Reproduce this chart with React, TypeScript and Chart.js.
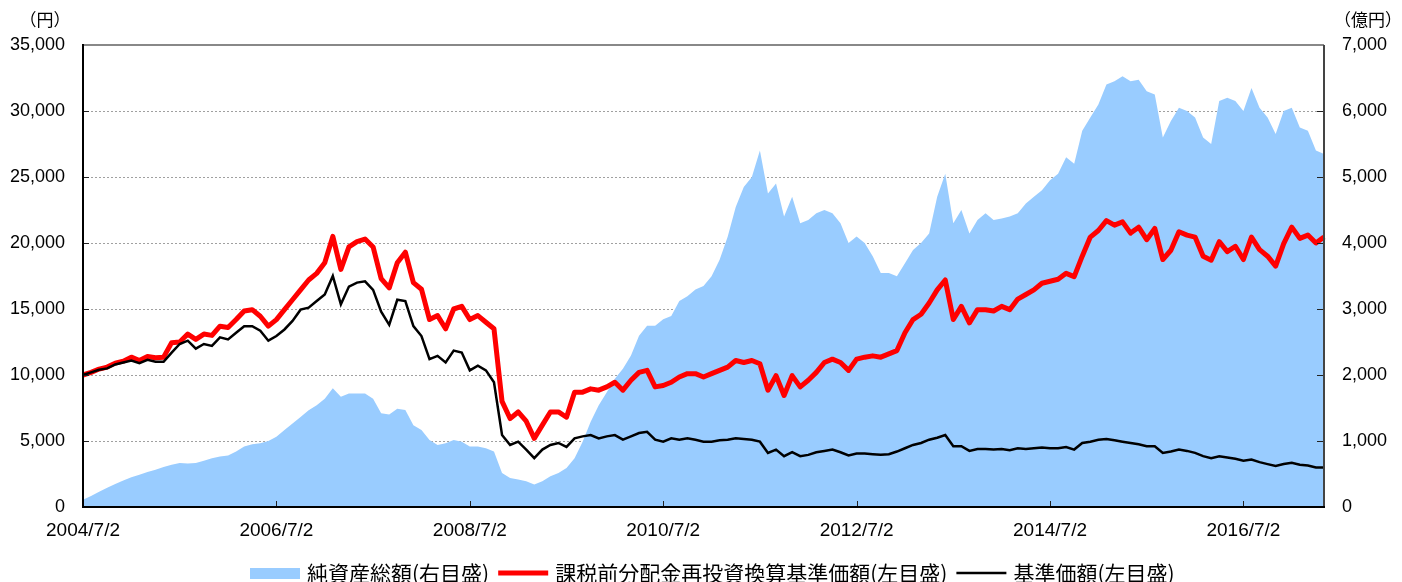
import React, { useEffect, useRef } from "react";
import { Chart, registerables } from "chart.js";

Chart.register(...registerables);

// Monthly categories 2004/7 .. 2017/5
const months: string[] = [];
for (let i = 0; i < 155; i++) {
  const m = 6 + i;
  months.push(`${2004 + Math.floor(m / 12)}/${(m % 12) + 1}`);
}

const xTickLabels = ["2004/7/2", "2006/7/2", "2008/7/2", "2010/7/2", "2012/7/2", "2014/7/2", "2016/7/2"];
const leftGrid = [5000, 10000, 15000, 20000, 25000, 30000];
const rightTickVals = [1000, 2000, 3000, 4000, 5000, 6000];

// 課税前分配金再投資換算基準価額 (円, left axis)
const reinvested = [
  10000, 10200, 10450, 10600, 10900, 11050, 11350, 11100, 11400, 11300,
  11350, 12450, 12500, 13100, 12700, 13100, 13000, 13700, 13600, 14200,
  14850, 14950, 14450, 13700, 14200, 14950, 15700, 16450, 17200, 17700,
  18500, 20500, 18000, 19700, 20100, 20300, 19700, 17300, 16600, 18500,
  19300, 17000, 16500, 14200, 14500, 13500, 15000, 15200, 14200, 14500,
  14000, 13500, 8000, 6700, 7200, 6500, 5200, 6200, 7200, 7200,
  6800, 8700, 8700, 8950, 8850, 9100, 9450, 8850, 9600, 10200,
  10350, 9100, 9200, 9450, 9850, 10100, 10100, 9850, 10100, 10350,
  10600, 11100, 10950, 11100, 10850, 8850, 9950, 8450, 9950, 9100,
  9600, 10200, 10950, 11200, 10950, 10350, 11200, 11350, 11450, 11350,
  11600, 11850, 13200, 14200, 14600, 15450, 16450, 17200, 14200, 15200,
  13950, 14950, 14950, 14850, 15200, 14950, 15750, 16100, 16450, 16950,
  17100, 17250, 17700, 17450, 19000, 20450, 20950, 21700, 21350, 21600,
  20750, 21200, 20250, 21100, 18750, 19450, 20850, 20600, 20450, 19000,
  18700, 20100, 19350, 19750, 18750, 20450, 19500, 19000, 18250, 19950,
  21200, 20350, 20600, 20000, 20450,
];

// 基準価額 (円, left axis)
const basePrice = [
  10000, 10200, 10400, 10500, 10800, 10950, 11100, 10900, 11150, 11000,
  11000, 11700, 12350, 12600, 12000, 12350, 12200, 12850, 12700, 13200,
  13700, 13700, 13350, 12600, 12950, 13450, 14100, 14950, 15100, 15600,
  16100, 17500, 15350, 16700, 17000, 17100, 16450, 14800, 13800, 15700,
  15600, 13700, 12950, 11200, 11450, 10950, 11850, 11700, 10350, 10700,
  10350, 9450, 5450, 4700, 4950, 4350, 3700, 4350, 4700, 4850,
  4550, 5200, 5350, 5450, 5200, 5350, 5450, 5100, 5350, 5600,
  5700, 5100, 4950, 5200, 5100, 5200, 5100, 4950, 4950, 5050,
  5100, 5200, 5150, 5100, 4950, 4100, 4350, 3850, 4150, 3850,
  3950, 4150, 4250, 4350, 4150, 3900, 4050, 4050, 4000, 3950,
  4000, 4200, 4450, 4700, 4850, 5100, 5250, 5450, 4600, 4600,
  4250, 4400, 4400, 4350, 4400, 4300, 4450, 4400, 4450, 4500,
  4450, 4450, 4550, 4350, 4850, 4950, 5100, 5150, 5050, 4950,
  4850, 4750, 4600, 4600, 4100, 4200, 4350, 4250, 4100, 3850,
  3700, 3850, 3750, 3650, 3500, 3600, 3400, 3250, 3100, 3250,
  3350, 3200, 3150, 3000, 3000,
];

// 純資産総額 (億円, right axis)
const netAssets = [
  110, 165, 230, 290, 350, 400, 450, 490, 530, 565,
  605, 640, 665, 660, 665, 700, 740, 765, 780, 840,
  915, 950, 965, 1000, 1065, 1165, 1265, 1365, 1465, 1540,
  1640, 1800, 1670, 1720, 1720, 1720, 1640, 1420, 1400, 1490,
  1470, 1240, 1165, 1015, 940, 965, 1015, 990, 915, 915,
  890, 840, 515, 440, 415, 390, 340, 390, 465, 515,
  590, 740, 990, 1290, 1540, 1740, 1945, 2095, 2295, 2595,
  2745, 2745, 2845, 2895, 3120, 3195, 3295, 3350, 3495, 3745,
  4095, 4545, 4850, 5000, 5400, 4750, 4900, 4400, 4700, 4300,
  4350, 4450, 4500, 4450, 4300, 4000, 4100, 4000, 3800, 3545,
  3545, 3495, 3695, 3895, 4000, 4145, 4700, 5050, 4300, 4500,
  4145, 4350, 4450, 4350, 4370, 4400, 4450, 4600, 4700, 4800,
  4950, 5050, 5300, 5200, 5700, 5900, 6100, 6400, 6450, 6525,
  6450, 6475, 6300, 6250, 5600, 5850, 6050, 6000, 5900, 5600,
  5500, 6150, 6200, 6150, 6000, 6350, 6050, 5900, 5650, 6000,
  6050, 5750, 5700, 5400, 5350,
];

const legendLabels = ["純資産総額(右目盛)", "課税前分配金再投資換算基準価額(左目盛)", "基準価額(左目盛)"];
const leftUnit = "（円）";
const rightUnit = "（億円）";

const NUM_FONT = "'Liberation Sans', Arial, sans-serif";
const JP_FONT = "'Noto Sans CJK JP', sans-serif";
const BLUE = "#99CCFF";
const RED = "#FF0000";
const BLACK = "#000000";

const decor = {
  id: "decor",
  beforeDatasetsDraw(chart: any) {
    const { ctx, chartArea: a, scales } = chart;
    ctx.save();
    ctx.strokeStyle = "#a0a0a0";
    ctx.lineWidth = 1;
    ctx.setLineDash([2, 2]);
    for (const v of leftGrid) {
      const y = Math.round(scales.y.getPixelForValue(v)) + 0.5;
      ctx.beginPath();
      ctx.moveTo(a.left, y);
      ctx.lineTo(a.right, y);
      ctx.stroke();
    }
    ctx.restore();
  },
  afterDatasetsDraw(chart: any) {
    const { ctx, chartArea: a, scales } = chart;
    ctx.save();
    ctx.setLineDash([]);
    ctx.strokeStyle = "#222";
    ctx.lineWidth = 1;
    for (const v of leftGrid) {
      const y = Math.round(scales.y.getPixelForValue(v)) + 0.5;
      ctx.beginPath();
      ctx.moveTo(a.left, y);
      ctx.lineTo(a.left + 6, y);
      ctx.stroke();
    }
    for (const v of rightTickVals) {
      const y = Math.round(scales.y1.getPixelForValue(v)) + 0.5;
      ctx.beginPath();
      ctx.moveTo(a.right - 7, y);
      ctx.lineTo(a.right, y);
      ctx.stroke();
    }
    for (let k = 1; k < xTickLabels.length; k++) {
      const x = Math.round(scales.x.getPixelForValue(k * 24)) + 0.5;
      ctx.beginPath();
      ctx.moveTo(x, a.bottom);
      ctx.lineTo(x, a.bottom - 6);
      ctx.stroke();
    }
    ctx.lineWidth = 2;
    ctx.strokeStyle = "#888888";
    ctx.beginPath();
    ctx.moveTo(a.left, a.top);
    ctx.lineTo(a.right, a.top);
    ctx.stroke();
    ctx.strokeStyle = "#444444";
    ctx.beginPath();
    ctx.moveTo(a.right, a.top);
    ctx.lineTo(a.right, a.bottom);
    ctx.stroke();
    ctx.strokeStyle = "#000000";
    ctx.beginPath();
    ctx.moveTo(a.left, a.top - 1);
    ctx.lineTo(a.left, a.bottom);
    ctx.lineTo(a.right + 1, a.bottom);
    ctx.stroke();
    ctx.restore();
  },
  afterDraw(chart: any) {
    const { ctx } = chart;
    ctx.save();
    ctx.fillStyle = "#000";
    ctx.textBaseline = "middle";
    ctx.textAlign = "center";
    ctx.font = `17px ${JP_FONT}`;
    ctx.fillText(leftUnit, 45, 20);
    ctx.fillText(rightUnit, 1368, 20);

    const y = 573;
    let x = 250;
    ctx.font = `21px ${JP_FONT}`;
    ctx.textAlign = "left";
    const kinds = ["box", "red", "black"];
    legendLabels.forEach((label, i) => {
      const kind = kinds[i];
      if (kind === "box") {
        ctx.fillStyle = BLUE;
        ctx.fillRect(x, y - 5, 50, 11);
      } else {
        ctx.strokeStyle = kind === "red" ? RED : BLACK;
        ctx.lineWidth = kind === "red" ? 5 : 2.5;
        ctx.beginPath();
        ctx.moveTo(x, y);
        ctx.lineTo(x + 50, y);
        ctx.stroke();
      }
      x += 57;
      ctx.fillStyle = "#000";
      ctx.fillText(label, x, y);
      x += ctx.measureText(label).width + 9;
    });
    ctx.restore();
  },
};

export default function App() {
  const canvasRef = useRef<HTMLCanvasElement | null>(null);

  useEffect(() => {
    const canvas = canvasRef.current;
    if (!canvas) return;
    const chart = new Chart(canvas, {
      type: "line",
      data: {
        labels: months,
        datasets: [
          {
            label: legendLabels[2],
            data: basePrice,
            yAxisID: "y",
            borderColor: BLACK,
            borderWidth: 2.5,
            pointRadius: 0,
            tension: 0,
            fill: false,
            order: 1,
          },
          {
            label: legendLabels[1],
            data: reinvested,
            yAxisID: "y",
            borderColor: RED,
            borderWidth: 5,
            pointRadius: 0,
            tension: 0,
            fill: false,
            borderJoinStyle: "round",
            order: 2,
          },
          {
            label: legendLabels[0],
            data: netAssets,
            yAxisID: "y1",
            borderWidth: 0,
            borderColor: BLUE,
            backgroundColor: BLUE,
            pointRadius: 0,
            tension: 0,
            fill: "origin",
            order: 3,
          },
        ],
      },
      options: {
        responsive: false,
        animation: false,
        layout: { padding: { top: 45, left: 0, right: 0, bottom: 0 } },
        plugins: {
          legend: { display: false },
          tooltip: { enabled: false },
          title: { display: false },
        },
        scales: {
          x: {
            type: "category",
            offset: false,
            grid: { display: false, drawTicks: false },
            border: { display: false },
            ticks: {
              autoSkip: false,
              maxRotation: 0,
              minRotation: 0,
              padding: 12,
              color: "#000",
              font: { family: NUM_FONT, size: 19 },
              callback: (_v: any, index: number) => (index % 24 === 0 ? xTickLabels[index / 24] ?? "" : ""),
            },
            afterFit: (s: any) => {
              s.height = 75;
            },
          },
          y: {
            position: "left",
            min: 0,
            max: 35000,
            grid: { display: false, drawTicks: false },
            border: { display: false },
            ticks: {
              stepSize: 5000,
              padding: 18,
              color: "#000",
              font: { family: NUM_FONT, size: 18 },
              callback: (v: any) => Number(v).toLocaleString("en-US"),
            },
            afterFit: (s: any) => {
              s.width = 83;
            },
          },
          y1: {
            position: "right",
            min: 0,
            max: 7000,
            grid: { display: false, drawTicks: false },
            border: { display: false },
            ticks: {
              stepSize: 1000,
              padding: 18,
              color: "#000",
              font: { family: NUM_FONT, size: 18 },
              callback: (v: any) => Number(v).toLocaleString("en-US"),
            },
            afterFit: (s: any) => {
              s.width = 78;
            },
          },
        },
      },
      plugins: [decor],
    } as any);
    return () => chart.destroy();
  }, []);

  return (
    <div style={{ position: "fixed", left: 0, top: 0, width: 1402, height: 582, background: "#fff" }}>
      <canvas ref={canvasRef} width={1402} height={582} style={{ display: "block", width: 1402, height: 582 }} />
    </div>
  );
}
